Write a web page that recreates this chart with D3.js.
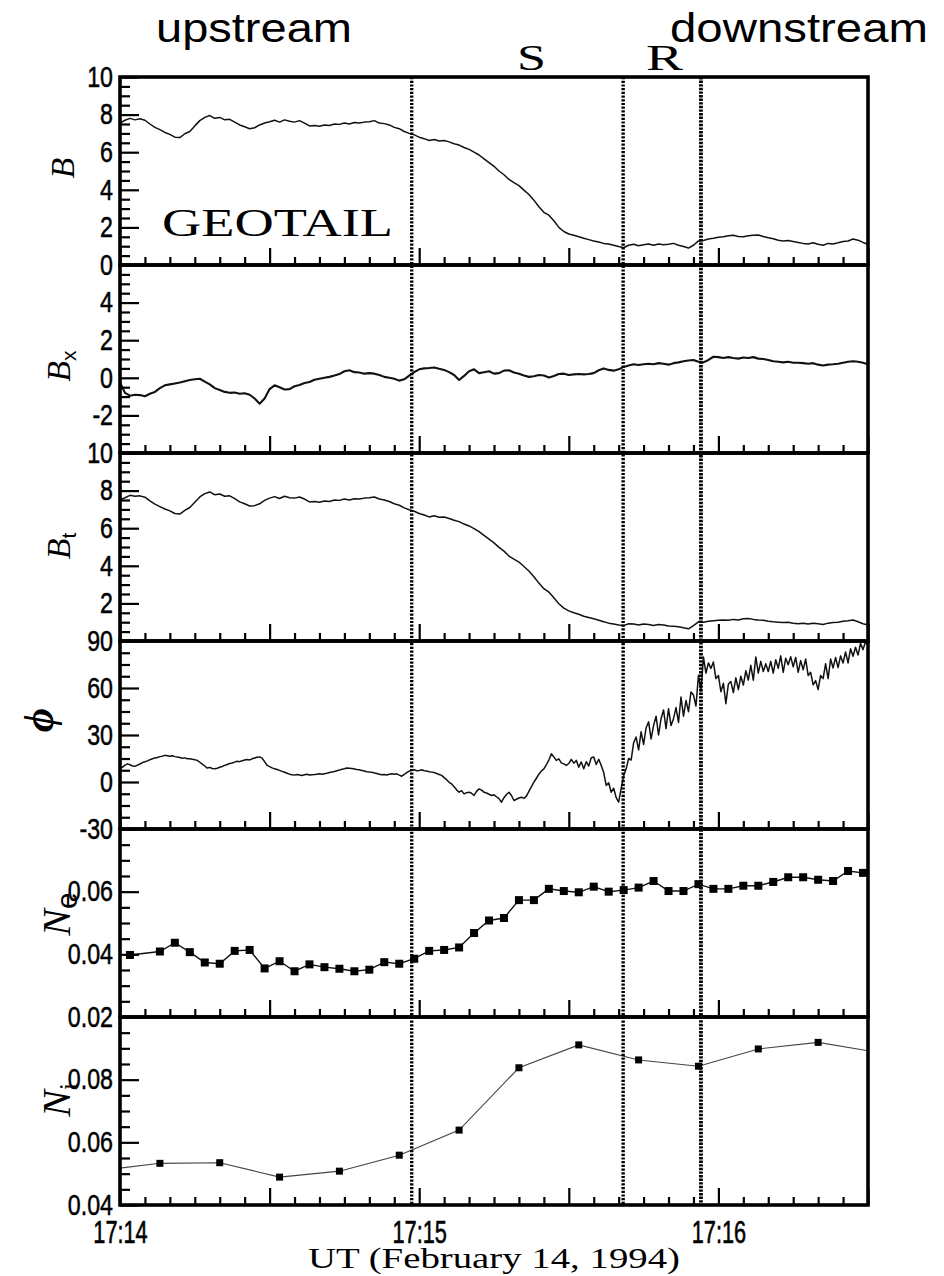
<!DOCTYPE html>
<html>
<head>
<meta charset="utf-8">
<script src="https://cdn.jsdelivr.net/npm/d3@7"></script>
<style>
html, body { margin: 0; padding: 0; background: #fff; }
svg { display: block; }
</style>
</head>
<body>
<svg id="chart" width="944" height="1276"></svg>
<script>
// ---- time axis: seconds after 17:14:00 UT ----
const tStart = 0, tEnd = 150;
const xMinuteTicks = [0, 60, 120];
const xMinuteLabels = ["17:14", "17:15", "17:16"];
const boundaryTimes = [58.5, 100.9, 116.5];

// ---- magnetic field, 1 s samples (nT) ----
const bStep = 1;
const bTotal = [
  7.55, 7.7, 7.8, 7.72, 7.78, 7.7, 7.5, 7.32, 7.2, 7.05,
  6.95, 6.8, 6.78, 6.98, 7.1, 7.4, 7.68, 7.85, 7.95, 7.8,
  7.85, 7.72, 7.75, 7.6, 7.45, 7.35, 7.25, 7.3, 7.45, 7.55,
  7.62, 7.7, 7.6, 7.72, 7.65, 7.6, 7.68, 7.55, 7.4, 7.42,
  7.38, 7.45, 7.42, 7.5, 7.48, 7.55, 7.5, 7.58, 7.55, 7.6,
  7.62, 7.68, 7.55, 7.52, 7.45, 7.32, 7.25, 7.1, 7.0, 6.92,
  6.8, 6.72, 6.62, 6.68, 6.6, 6.62, 6.55, 6.45, 6.38, 6.25,
  6.15, 6.0, 5.85, 5.65, 5.45, 5.25, 5.0, 4.8, 4.55, 4.38,
  4.22, 3.98, 3.75, 3.45, 3.1, 2.8, 2.65, 2.35, 2.0, 1.78,
  1.65, 1.58, 1.5, 1.42, 1.35, 1.28, 1.22, 1.15, 1.12, 1.05,
  0.98, 0.92, 1.05, 1.1, 1.02, 1.08, 1.12, 1.05, 1.12, 1.08,
  1.1, 1.15, 1.05, 0.98, 0.9, 1.05, 1.28, 1.3, 1.38, 1.42,
  1.48, 1.5, 1.55, 1.58, 1.52, 1.5, 1.55, 1.58, 1.6, 1.52,
  1.45, 1.4, 1.32, 1.28, 1.3, 1.25, 1.2, 1.15, 1.12, 1.18,
  1.1, 1.05, 1.15, 1.12, 1.18, 1.25, 1.28, 1.38, 1.32, 1.2,
  1.1
];
const bX = [
  -0.25, -0.8, -0.95, -0.9, -0.92, -0.98, -0.85, -0.75, -0.55, -0.4,
  -0.35, -0.3, -0.25, -0.18, -0.12, -0.08, -0.05, -0.2, -0.35, -0.55,
  -0.65, -0.75, -0.8, -0.78, -0.85, -0.82, -0.9, -1.1, -1.38, -1.1,
  -0.6, -0.4, -0.5, -0.62, -0.6, -0.45, -0.38, -0.28, -0.22, -0.1,
  -0.05, 0.0, 0.05, 0.12, 0.2, 0.35, 0.4, 0.3, 0.28, 0.22,
  0.25, 0.22, 0.15, 0.05, 0.0, -0.05, -0.15, -0.08, 0.12, 0.3,
  0.45, 0.5, 0.52, 0.55, 0.48, 0.42, 0.3, 0.15, -0.12, 0.1,
  0.35, 0.45, 0.25, 0.3, 0.35, 0.22, 0.25, 0.38, 0.4, 0.28,
  0.22, 0.12, 0.05, 0.08, 0.15, 0.12, 0.02, 0.1, 0.2, 0.22,
  0.15, 0.18, 0.2, 0.18, 0.2, 0.25, 0.4, 0.5, 0.42, 0.38,
  0.45, 0.58, 0.65, 0.72, 0.68, 0.72, 0.75, 0.72, 0.78, 0.75,
  0.7, 0.78, 0.82, 0.88, 0.92, 0.95, 0.85, 0.82, 0.95, 1.12,
  1.1, 1.05, 1.1, 1.05, 1.02, 1.08, 1.05, 1.1, 1.02, 1.0,
  0.95, 0.88, 0.85, 0.82, 0.85, 0.8, 0.8, 0.78, 0.75, 0.78,
  0.7, 0.65, 0.7, 0.72, 0.75, 0.8, 0.85, 0.88, 0.85, 0.8,
  0.72
];
const bT = [
  7.5, 7.62, 7.75, 7.7, 7.72, 7.65, 7.45, 7.28, 7.15, 7.02,
  6.92, 6.78, 6.75, 6.95, 7.1, 7.38, 7.66, 7.84, 7.93, 7.78,
  7.82, 7.7, 7.72, 7.57, 7.4, 7.3, 7.18, 7.2, 7.3, 7.48,
  7.6, 7.68, 7.58, 7.7, 7.62, 7.6, 7.66, 7.55, 7.4, 7.42,
  7.38, 7.45, 7.42, 7.5, 7.48, 7.55, 7.5, 7.57, 7.55, 7.6,
  7.62, 7.66, 7.55, 7.5, 7.42, 7.3, 7.22, 7.08, 6.98, 6.9,
  6.78, 6.7, 6.6, 6.66, 6.58, 6.6, 6.52, 6.42, 6.35, 6.22,
  6.12, 5.98, 5.82, 5.62, 5.42, 5.22, 4.98, 4.78, 4.52, 4.35,
  4.2, 3.96, 3.72, 3.42, 3.08, 2.78, 2.6, 2.3, 1.98, 1.75,
  1.6, 1.5, 1.42, 1.32, 1.25, 1.18, 1.1, 1.02, 0.95, 0.9,
  0.85, 0.82, 0.92, 0.9, 0.85, 0.9, 0.88, 0.82, 0.88, 0.85,
  0.8, 0.78, 0.76, 0.7, 0.65, 0.82, 1.02, 1.0, 1.05, 1.08,
  1.1, 1.12, 1.1, 1.15, 1.12, 1.18, 1.2, 1.15, 1.12, 1.1,
  1.05, 1.02, 1.0, 0.98, 1.0, 0.95, 0.92, 0.95, 0.9, 0.95,
  0.92, 0.88, 0.95, 0.98, 1.0, 1.05, 1.08, 1.12, 1.02, 0.92,
  0.85
];

// ---- field azimuth angle, 0.5 s samples (deg) ----
const phiStep = 0.5;
const phi = [
  8.5, 9.5, 10.8, 11.6, 11.0, 10.2, 10.0, 10.8, 11.5, 12.4,
  12.9, 13.5, 14.2, 14.8, 15.3, 15.6, 16.2, 16.5, 17.0, 16.8,
  16.5, 16.8, 16.2, 16.0, 15.6, 15.2, 15.4, 14.8, 14.9, 14.5,
  14.2, 13.8, 12.6, 11.4, 10.2, 8.9, 9.3, 8.6, 8.4, 8.8,
  9.4, 9.9, 10.6, 11.2, 11.8, 12.1, 12.7, 13.2, 13.0, 13.6,
  14.0, 14.4, 14.1, 14.8, 15.3, 15.8, 16.0, 15.2, 13.0, 10.6,
  9.8, 9.0, 8.4, 8.0, 7.4, 6.8, 6.2, 5.6, 5.0, 4.6,
  4.4, 4.8, 4.5, 4.2, 4.6, 4.9, 4.5, 4.7, 4.8, 5.0,
  5.2, 4.9, 5.3, 5.6, 6.0, 6.4, 6.7, 7.2, 7.6, 8.1,
  8.4, 8.9, 8.8, 8.6, 8.3, 8.0, 7.8, 7.4, 7.0, 6.6,
  6.4, 6.3, 5.8, 5.4, 5.0, 4.6, 4.8, 4.5, 4.9, 5.2,
  5.0, 5.2, 4.4, 3.7, 4.8, 6.0, 7.0, 7.4, 7.8, 7.2,
  7.4, 7.8, 7.2, 7.0, 6.6, 6.3, 6.0, 5.4, 4.8, 4.2,
  2.8, 1.5, -0.2, -1.2, -3.0, -5.0, -6.5, -5.5, -7.6, -6.8,
  -6.5, -7.2, -8.6, -6.0, -4.4, -5.2, -6.5, -7.0, -7.8, -8.6,
  -8.2, -9.4, -10.6, -12.9, -10.0, -8.0, -6.5, -8.6, -11.8, -11.0,
  -10.2, -9.7, -10.5, -9.0, -6.0, -3.0, -0.1, 2.4, 5.0, 7.0,
  8.4, 11.0, 14.0, 18.0, 16.0, 13.8, 14.8, 12.2, 11.6, 10.6,
  11.8, 14.5, 12.0, 13.8, 9.5, 12.8, 8.4, 13.0, 10.2, 15.5,
  16.0, 11.2, 14.5, 10.6, 6.0, -2.2, -0.5, -6.5, -4.0, -10.0,
  -12.9, -4.0, 4.0, 8.4, 15.0, 14.0, 25.0, 28.7, 20.5, 32.0,
  24.0, 34.5, 38.4, 27.5, 36.0, 42.0, 30.0, 40.4, 46.0, 34.0,
  46.8, 36.0, 40.4, 47.5, 38.0, 54.2, 42.0, 52.0, 44.9, 57.5,
  55.5, 48.5, 68.1, 58.0, 79.8, 69.5, 76.0, 72.5, 76.6, 66.0,
  68.0, 57.6, 63.0, 50.0, 62.5, 64.1, 57.0, 66.5, 59.0, 67.5,
  61.9, 71.0, 65.1, 74.5, 65.0, 79.8, 69.5, 77.0, 70.5, 75.5,
  70.5, 77.0, 69.5, 78.0, 72.6, 80.5, 70.0, 79.0, 74.9, 80.0,
  73.5, 79.5, 70.0, 77.5, 71.6, 78.5, 68.0, 70.0, 62.0, 64.7,
  59.0, 68.0, 66.0, 75.5, 66.0, 78.5, 72.8, 79.5, 73.0, 80.5,
  76.0, 83.0, 76.0, 85.0, 80.3, 86.0, 81.0, 88.5, 84.5, 89.5,
  87.0
];

// ---- electron density (cm^-3) ----
const neTimes = [2, 8, 11, 14, 17, 20, 23, 26, 29, 32, 35, 38, 41, 44, 47, 50, 53, 56, 59, 62,
  65, 68, 71, 74, 77, 80, 83, 86, 89, 92, 95, 98, 101, 104, 107, 110, 113, 116, 119, 122,
  125, 128, 131, 134, 137, 140, 143, 146, 149];
const neValues = [0.0398, 0.0409, 0.0437, 0.0407, 0.0374, 0.0370, 0.0411, 0.0414, 0.0355, 0.0378,
  0.0346, 0.0368, 0.0359, 0.0354, 0.0346, 0.0351, 0.0375, 0.0370, 0.0386, 0.0411,
  0.0414, 0.0422, 0.0468, 0.0508, 0.0516, 0.0573, 0.0573, 0.0609, 0.0602, 0.0598,
  0.0616, 0.0600, 0.0605, 0.0613, 0.0634, 0.0602, 0.0602, 0.0624, 0.0609, 0.0609,
  0.0619, 0.0619, 0.0631, 0.0646, 0.0646, 0.0638, 0.0634, 0.0666, 0.0660];

// ---- ion density (cm^-3) ----
const niTimes = [-4, 8, 20, 32, 44, 56, 68, 80, 92, 104, 116, 128, 140, 152];
const niValues = [0.0510, 0.0533, 0.0535, 0.0489, 0.0508, 0.0559, 0.0639, 0.0838, 0.0911,
  0.0863, 0.0843, 0.0898, 0.0919, 0.0887];

// ---- panel axes ----
const panelDomains = [[0, 10], [-4, 6], [0, 10], [-30, 90], [0.02, 0.08], [0.04, 0.10]];
const panelMajorSteps = [2, 2, 2, 30, 0.02, 0.02];
const panelMinorSteps = [0.5, 0.5, 0.5, 7.5, 0.005, 0.005];
const panelTickLabels = [
  [0, 2, 4, 6, 8, 10],
  [-2, 0, 2, 4],
  [2, 4, 6, 8, 10],
  [-30, 0, 30, 60, 90],
  [0.02, 0.04, 0.06],
  [0.04, 0.06, 0.08]
];

// ---------------------------------------------------------------
const plotLeft = 120, plotRight = 868, plotTop = 77, panelH = 188;
const nPanels = 6;
const sans = "'Liberation Sans', Arial, sans-serif";
const serif = "'Liberation Serif', 'Times New Roman', serif";
const yCondense = 0.8, xCondense = 0.68;

const svg = d3.select("#chart");
svg.append("rect").attr("width", 944).attr("height", 1276).attr("fill", "#fff");

const x = d3.scaleLinear().domain([tStart, tEnd]).range([plotLeft, plotRight]);
const rnd = v => +v.toFixed(5);
const fmt = v => String(rnd(v));

const defs = svg.append("defs");
const panels = d3.range(nPanels).map(i => {
  const top = plotTop + i * panelH;
  const y = d3.scaleLinear().domain(panelDomains[i]).range([top + panelH, top]);
  defs.append("clipPath").attr("id", "clip" + i)
    .append("rect").attr("x", plotLeft).attr("y", top)
    .attr("width", plotRight - plotLeft).attr("height", panelH);
  const g = svg.append("g");
  const plot = g.append("g").attr("clip-path", `url(#clip${i})`);
  return { i, top, y, g, plot };
});

// continuous traces
const traces = [
  { p: 0, data: bTotal, step: bStep, w: 1.5 },
  { p: 1, data: bX, step: bStep, w: 2.1 },
  { p: 2, data: bT, step: bStep, w: 1.5 },
  { p: 3, data: phi, step: phiStep, w: 1.5 }
];
traces.forEach(tr => {
  const pn = panels[tr.p];
  const line = d3.line().x((d, k) => x(k * tr.step)).y(d => pn.y(d));
  pn.plot.append("path").datum(tr.data)
    .attr("d", line).attr("fill", "none")
    .attr("stroke", "#111").attr("stroke-width", tr.w)
    .attr("stroke-linejoin", "round");
});

// density series with square markers
const densities = [
  { p: 4, t: neTimes, v: neValues, w: 1.4, m: 8, col: "#111" },
  { p: 5, t: niTimes, v: niValues, w: 1.1, m: 7, col: "#444" }
];
densities.forEach(ds => {
  const pn = panels[ds.p];
  const pts = ds.t.map((t, k) => [t, ds.v[k]]);
  pn.plot.append("path").datum(pts)
    .attr("d", d3.line().x(d => x(d[0])).y(d => pn.y(d[1])))
    .attr("fill", "none").attr("stroke", ds.col).attr("stroke-width", ds.w);
  pn.plot.selectAll("rect.mk").data(pts).join("rect").attr("class", "mk")
    .attr("x", d => x(d[0]) - ds.m / 2).attr("y", d => pn.y(d[1]) - ds.m / 2)
    .attr("width", ds.m).attr("height", ds.m).attr("fill", "#000");
});

// axes: inward ticks on the left and bottom of every panel
panels.forEach(pn => {
  const [d0, d1] = panelDomains[pn.i];
  const majors = d3.range(d0, d1 + 1e-9, panelMajorSteps[pn.i]).map(rnd);
  const minors = d3.range(d0, d1 + 1e-9, panelMinorSteps[pn.i]).map(rnd)
    .filter(v => !majors.some(m => Math.abs(m - v) < 1e-9));
  const labelled = panelTickLabels[pn.i].map(rnd);

  const minorAxis = pn.g.append("g").attr("transform", `translate(${plotLeft},0)`)
    .call(d3.axisLeft(pn.y).tickValues(minors).tickSize(-10).tickFormat(""));
  const majorAxis = pn.g.append("g").attr("transform", `translate(${plotLeft},0)`)
    .call(d3.axisLeft(pn.y).tickValues(majors).tickSize(-19).tickPadding(7)
      .tickFormat(v => labelled.some(m => Math.abs(m - v) < 1e-9) ? fmt(v) : ""));
  [minorAxis, majorAxis].forEach(a => {
    a.select(".domain").remove();
    a.selectAll("line").attr("stroke", "#000").attr("stroke-width", 2.2);
  });
  majorAxis.selectAll("text")
    .style("font-family", sans).style("font-size", "29px").attr("fill", "#000")
    .attr("stroke", "#000").attr("stroke-width", 0.5)
    .attr("x", -7 / yCondense).attr("transform", `scale(${yCondense},1)`);

  const bottom = pn.top + panelH;
  const xMajors = d3.range(tStart, tEnd + 1, 30);
  const xMinors = d3.range(tStart, tEnd + 1, 5).filter(v => v % 30 !== 0);
  const xa1 = pn.g.append("g").attr("transform", `translate(0,${bottom})`)
    .call(d3.axisBottom(x).tickValues(xMinors).tickSize(-8).tickFormat(""));
  const xa2 = pn.g.append("g").attr("transform", `translate(0,${bottom})`)
    .call(d3.axisBottom(x).tickValues(xMajors).tickSize(-17).tickFormat(""));
  [xa1, xa2].forEach(a => {
    a.select(".domain").remove();
    a.selectAll("line").attr("stroke", "#000").attr("stroke-width", 2.2);
  });
});

// time labels under the last panel
const lastBottom = plotTop + nPanels * panelH;
const xLab = svg.append("g").attr("transform", `translate(0,${lastBottom})`)
  .call(d3.axisBottom(x).tickValues(xMinuteTicks).tickSize(0).tickPadding(15)
    .tickFormat((d, k) => xMinuteLabels[k]));
xLab.select(".domain").remove();
xLab.selectAll("text")
  .style("font-family", sans).style("font-size", "32px").attr("fill", "#000")
  .attr("stroke", "#000").attr("stroke-width", 0.6)
  .attr("transform", `scale(${xCondense},1)`);

// dotted boundary lines through all panels
svg.append("g").selectAll("line").data(boundaryTimes).join("line")
  .attr("x1", d => x(d)).attr("x2", d => x(d))
  .attr("y1", plotTop).attr("y2", lastBottom)
  .attr("stroke", "#000").attr("stroke-width", (d, k) => k === 2 ? 3.8 : 3.4)
  .attr("stroke-dasharray", (d, k) => k === 2 ? "2.4,1.2" : "2.2,1.5");

// panel frames
panels.forEach(pn => {
  pn.g.append("rect").attr("x", plotLeft).attr("y", pn.top)
    .attr("width", plotRight - plotLeft).attr("height", panelH)
    .attr("fill", "none").attr("stroke", "#000").attr("stroke-width", 3.6);
});

// axis titles (rotated)
const yTitles = [
  { main: "B", sub: "", cx: 74, cy: 168, size: 34 },
  { main: "B", sub: "x", cx: 70, cy: 366, size: 34 },
  { main: "B", sub: "t", cx: 70, cy: 546, size: 34 },
  { main: "ϕ", sub: "", cx: 53, cy: 720, size: 42, bold: true },
  { main: "N", sub: "e", cx: 70, cy: 914, size: 40 },
  { main: "N", sub: "i", cx: 70, cy: 1100, size: 40 }
];
yTitles.forEach(tt => {
  const t = svg.append("text")
    .attr("transform", `translate(${tt.cx},${tt.cy}) rotate(-90)`)
    .attr("text-anchor", "middle").attr("fill", "#000");
  t.append("tspan").text(tt.main)
    .attr("font-family", serif).attr("font-style", "italic")
    .attr("font-weight", tt.bold ? "bold" : "normal").attr("font-size", tt.size);
  if (tt.sub) {
    t.append("tspan").text(tt.sub)
      .attr("font-family", tt.sub === "i" ? serif : sans)
      .attr("font-size", tt.sub === "e" ? tt.size * 0.75 : tt.size * 0.62)
      .attr("dy", tt.size * 0.18);
  }
});

// annotations
const notes = [
  { text: "upstream", x: 156, y: 42, len: 196, font: sans, size: 41 },
  { text: "downstream", x: 670, y: 42, len: 258, font: sans, size: 41 },
  { text: "S", x: 517, y: 70, len: 29, font: serif, size: 36 },
  { text: "R", x: 646, y: 70, len: 37, font: serif, size: 36 },
  { text: "GEOTAIL", x: 162, y: 236, len: 231, font: serif, size: 41 },
  { text: "UT (February 14, 1994)", x: 308, y: 1268, len: 372, font: serif, size: 30 }
];
notes.forEach(n => {
  svg.append("text").text(n.text)
    .attr("x", n.x).attr("y", n.y)
    .attr("font-family", n.font).attr("font-size", n.size).attr("fill", "#000")
    .attr("textLength", n.len).attr("lengthAdjust", "spacingAndGlyphs");
});
</script>
</body>
</html>
